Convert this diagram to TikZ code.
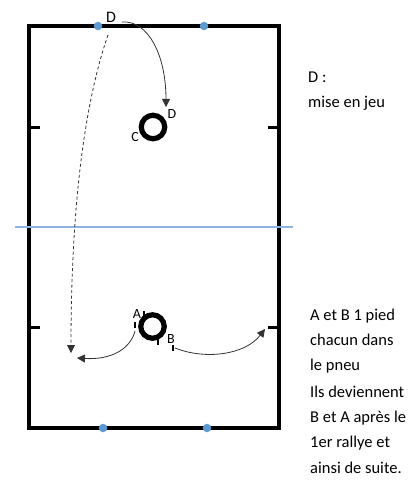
\documentclass[tikz,border=0pt]{standalone}
\usepackage{fontspec}
\setmainfont{Carlito}
\usetikzlibrary{arrows.meta}
\definecolor{dotblue}{HTML}{5B9BD5}
\definecolor{lineblue}{HTML}{8FB4E3}
\tikzset{
  court/.style={line width=3.2pt, line cap=rect},
  tick/.style={line width=3pt},
  bluedot/.style={circle, fill=dotblue, inner sep=0pt, minimum size=8.5pt},
  tire/.style={circle, draw=black, line width=5.2pt, minimum size=23.5pt, inner sep=0pt},
  tirelabel/.style={font=\fontsize{14}{16}\selectfont, inner sep=0pt},
  sidetext/.style={font=\fontsize{16.5}{19}\selectfont, anchor=base west, inner sep=0pt},
  foot/.style={line width=2.8pt},
  move/.style={draw=black!80, line width=0.8pt, -{Triangle[width=8pt,length=8pt]}},
  pass/.style={draw=black!80, line width=0.8pt, dashed, dash pattern=on 3pt off 2.5pt, -{Triangle[width=8pt,length=8pt]}}
}
\begin{document}
\begin{tikzpicture}[x=1pt,y=-1pt]
\useasboundingbox (0,0) rectangle (416,484);
% court
\draw[court] (29,26) rectangle (279,428);
% side ticks
\draw[tick] (29,127) -- (40,127);
\draw[tick] (268,127) -- (279,127);
\draw[tick] (29,327) -- (40,327);
\draw[tick] (268,327) -- (279,327);
% middle line
\draw[lineblue, line width=1.3pt] (15,227) -- (293,227);
% dots
\node[bluedot] (t1) at (98,26) {};
\node[bluedot] (t2) at (204,26) {};
\node[bluedot] (b1) at (103,428) {};
\node[bluedot] (b2) at (207,428) {};
% top tire
\node[tire] (tireC) at (153,127) {};
\node[tirelabel] (lD2) at (172,114) {D};
\node[tirelabel] (lC) at (135,137) {C};
% bottom tire
\node[tire] (tireAB) at (152.5,326.5) {};
\node[tirelabel] (lA) at (137,314) {A};
\node[tirelabel] (lB) at (171,339) {B};
% feet
\draw[foot] (135,322) -- (135,328);
\draw[foot] (144,311) -- (144,317);
\draw[foot] (158,339) -- (158,345);
\draw[foot] (173,345) -- (173,351);
% top D label
\node[font=\fontsize{16}{18}\selectfont, inner sep=0pt] (lD) at (111,17) {D};
% arrows
\coordinate (s1) at (122,22);
\coordinate (e1) at (166,107);
\draw[move] (s1) .. controls (148,20) and (166,55) .. (e1);
\coordinate (s2) at (108,35);
\coordinate (e2) at (71,353);
\draw[pass] (s2) .. controls (82,110) and (71,220) .. (e2);
\coordinate (s3) at (135,331);
\coordinate (e3) at (77,358);
\draw[move] (s3) .. controls (130,350) and (110,360) .. (e3);
\coordinate (s4) at (175,348);
\coordinate (e4) at (265,329);
\draw[move] (s4) .. controls (205,360) and (245,355) .. (e4);
% side texts
\node[sidetext] (d1) at (308,83) {D :};
\node[sidetext] (d2) at (308,107) {mise en jeu};
\node[sidetext] (r1) at (310,320) {A et B 1 pied};
\node[sidetext] (r2) at (310,345) {chacun dans};
\node[sidetext] (r3) at (310,370) {le pneu};
\node[sidetext] (r4) at (310,397) {Ils deviennent};
\node[sidetext] (r5) at (310,422) {B et A après le};
\node[sidetext] (r6) at (310,447) {1er rallye et};
\node[sidetext] (r7) at (310,473) {ainsi de suite.};
\end{tikzpicture}
\end{document}
